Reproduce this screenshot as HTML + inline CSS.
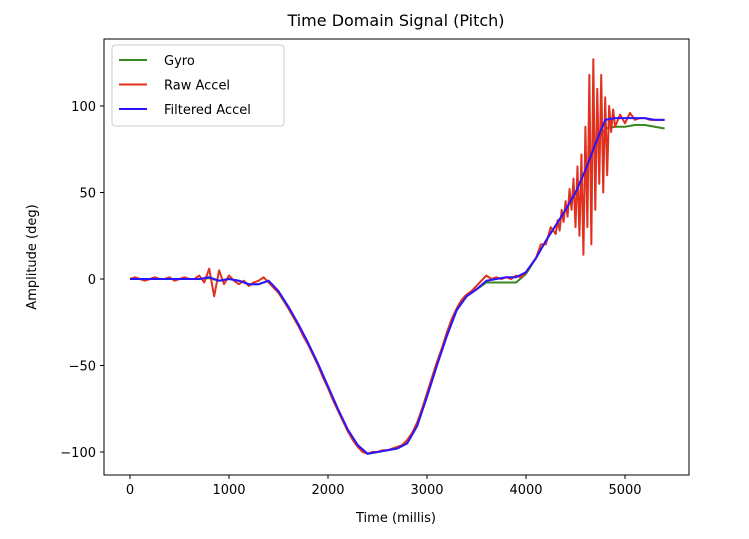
<!DOCTYPE html>
<html><head><meta charset="utf-8"><style>
body{margin:0;background:#fff;}
svg{display:block;font-family:"DejaVu Sans","Liberation Sans",sans-serif;}
</style></head><body>
<svg id="chart" width="749" height="539"></svg>
<script>
const gyroT=[0,100,200,300,400,500,600,700,800,900,1000,1100,1200,1300,1400,1500,1600,1700,1800,1900,2000,2100,2200,2300,2400,2500,2600,2700,2800,2900,3000,3100,3200,3300,3400,3500,3600,3700,3800,3900,4000,4100,4200,4300,4400,4500,4600,4700,4800,4900,5000,5100,5200,5300,5400];
const gyroV=[0,0,0,0,0,0,0,0,0.5,-1,0,-1,-3,-3,-1,-8,-17,-27,-38,-50,-63,-76,-88,-96,-101,-100,-99,-98,-95,-85,-68,-50,-33,-18,-10,-6,-2,-2,-2,-2,3,12,22,31,40,50,63,78,87,88,88,89,89,88,87];
const filtV=[0,0,0,0,0,0,0,0,1,-1,0,-1,-3,-3,-1,-7,-16,-26,-37,-49,-62,-75,-87,-96,-101,-100,-99,-98,-95,-85,-68,-50,-33,-18,-10,-6,-1,0,1,1,4,12,22,31,40,50,63,78,92,93,93,93,93,92,92];
const rawT=[0,50,100,150,200,250,300,350,400,450,500,550,600,650,700,750,800,850,900,950,1000,1050,1100,1150,1200,1250,1300,1350,1400,1450,1500,1550,1600,1650,1700,1750,1800,1850,1900,1950,2000,2050,2100,2150,2200,2250,2300,2350,2400,2450,2500,2550,2600,2650,2700,2750,2800,2850,2900,2950,3000,3050,3100,3150,3200,3250,3300,3350,3400,3450,3500,3550,3600,3650,3700,3750,3800,3850,3900,3950,4000,4050,4100,4150,4200,4250,4300,4320,4340,4360,4380,4400,4420,4440,4460,4480,4500,4520,4540,4560,4580,4600,4620,4640,4660,4680,4700,4720,4740,4760,4780,4800,4820,4840,4860,4880,4900,4950,5000,5050,5100,5150,5200,5250,5300,5350,5400];
const rawV=[0,1,0,-1,0,1,0,0,1,-1,0,1,0,0,2,-2,6,-10,5,-3,2,-1,-3,-1,-4,-2,-1,1,-2,-5,-8,-12,-17,-22,-27,-33,-38,-44,-50,-57,-63,-70,-76,-82,-88,-93,-97,-100,-101,-100,-100,-99,-99,-98,-97,-96,-93,-89,-83,-75,-66,-57,-48,-40,-31,-23,-17,-12,-9,-7,-4,-1,2,0,1,0,1,0,2,1,4,8,12,20,20,30,26,34,28,40,33,45,36,52,40,58,30,65,25,72,14,88,30,118,20,127,40,110,55,118,50,105,60,100,85,98,88,95,90,96,92,93,93,92,92,92,92];
const ticksX=[0,1000,2000,3000,4000,5000];
const ticksY=[100,50,0,-50,-100];
const L=104,R=689,T=39,B=475;
const sx=t=>130+t*0.099;
const sy=v=>279-v*1.73;
const svg=document.getElementById('chart');
const NS='http://www.w3.org/2000/svg';
function mk(tag,attrs,parent){const e=document.createElementNS(NS,tag);for(const k in attrs)e.setAttribute(k,attrs[k]);(parent||svg).appendChild(e);return e;}
const title=mk('text',{x:396,y:26,'text-anchor':'middle','font-size':16,fill:'#000'});title.textContent='Time Domain Signal (Pitch)';


ticksX.forEach(t=>{
  const tk=mk('line',{x1:sx(t),x2:sx(t),y1:B,y2:B+4,stroke:'#000'});
  
  
  const lb=mk('text',{x:sx(t),y:B+19,'text-anchor':'middle','font-size':13,fill:'#000'});lb.textContent=t;
  
  
});
ticksY.forEach(v=>{
  const tk=mk('line',{x1:L-4,x2:L,y1:sy(v),y2:sy(v),stroke:'#000'});
  
  
  const lb=mk('text',{x:L-8,y:sy(v)+5,'text-anchor':'end','font-size':13,fill:'#000'});lb.textContent=v<0?'\u2212'+(-v):v;
  
  
});
const xt=mk('text',{x:396,y:522,'text-anchor':'middle','font-size':13,fill:'#000'});xt.textContent='Time (millis)';


const yt=mk('text',{x:36,y:257,'text-anchor':'middle','font-size':13,fill:'#000',transform:'rotate(-90 36 257)'});yt.textContent='Amplitude (deg)';


function line(ts,vs,color,w,name){
  const p=mk('polyline',{points:ts.map((t,i)=>sx(t)+','+sy(vs[i])).join(' '),fill:'none',stroke:color,'stroke-width':w,'stroke-linejoin':'round'});
  
  
}
line(gyroT,gyroV,'#38871f',2,'gyro-line');
line(rawT,rawV,'#e0301e',2,'raw-accel-line');
line(gyroT,filtV,'#2b14ff',2,'filtered-accel-line');
const frame=mk('rect',{x:L,y:T,width:R-L,height:B-T,fill:'none',stroke:'#000','stroke-width':1});


const lg=mk('g',{});


mk('rect',{x:112,y:45,width:172,height:81,rx:3,fill:'#fff',stroke:'#ccc'},lg);
[['Gyro','#38871f'],['Raw Accel','#e0301e'],['Filtered Accel','#2b14ff']].forEach((e,i)=>{
  const y=60+i*24.5;
  const g=mk('g',{},lg);
  
  
  mk('line',{x1:119,x2:147,y1:y,y2:y,stroke:e[1],'stroke-width':2},g);
  const t=mk('text',{x:164,y:y+5,'font-size':13,fill:'#000'},g);t.textContent=e[0];
});
</script>
</body></html>
